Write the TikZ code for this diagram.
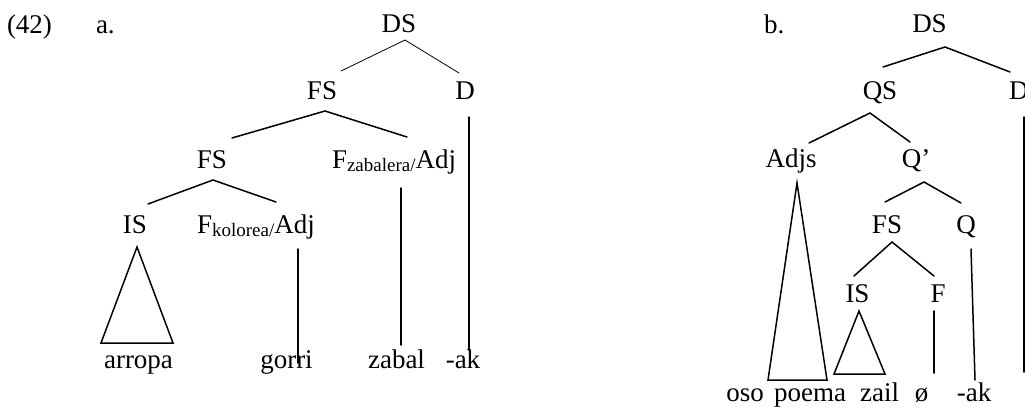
\documentclass[tikz,border=0pt]{standalone}
\usepackage{fontspec}
\setmainfont{Liberation Serif}
\newcommand\lsub[1]{\raisebox{-3.5pt}{\fontsize{19}{20}\selectfont #1}}
\tikzset{
  lbl/.style={inner sep=0pt, outer sep=0pt, anchor=base, font=\fontsize{27}{30}\selectfont},
  lblw/.style={lbl, anchor=base west},
  br/.style={line width=1.5pt, line cap=round, line join=miter},
  thinbr/.style={line width=0.8pt, line cap=round}
}
\begin{document}
\begin{tikzpicture}[x=1pt,y=-1pt]
\useasboundingbox (0,0) rectangle (1025,408);
% ---------- (a) ----------
\node[lblw] (num) at (7,33) {(42)};
\node[lblw] (la) at (96,33) {a.};
\node[lbl] (DSa) at (399,32) {DS};
\node[lbl] (FSa1) at (322,99) {FS};
\node[lbl] (Da) at (465,99) {D};
\node[lbl] (FSa2) at (212,168) {FS};
\node[lblw] (Fzab) at (332,168) {F\lsub{zabalera/}Adj};
\node[lbl] (ISa) at (135,233) {IS};
\node[lblw] (Fkol) at (197,233) {F\lsub{kolorea/}Adj};
\node[lbl] (arropa) at (138.5,368) {arropa};
\node[lbl] (gorri) at (286.5,368) {gorri};
\node[lbl] (zabal) at (396.5,368) {zabal};
\node[lbl] (aka) at (463,368) {-ak};
% coordinates for branches
\coordinate (DSa-t) at (405,40);
\coordinate (DSa-l) at (341,71);
\coordinate (DSa-r) at (459,73);
\coordinate (FSa1-t) at (325,111);
\coordinate (FSa1-l) at (232,138);
\coordinate (FSa1-r) at (407,137);
\coordinate (Da-t) at (469,117);
\coordinate (Da-b) at (469,350);
\coordinate (FSa2-t) at (213,180);
\coordinate (FSa2-l) at (148,204);
\coordinate (FSa2-r) at (276,202);
\coordinate (Fzab-t) at (401,188);
\coordinate (Fzab-b) at (401,345);
\coordinate (ISa-t) at (137,247);
\coordinate (ISa-l) at (101,343);
\coordinate (ISa-r) at (173,343);
\coordinate (Fkol-t) at (298,249);
\coordinate (Fkol-b) at (298,363);
\draw[thinbr] (DSa-l) -- (DSa-t) -- (DSa-r);
\draw[br] (FSa1-l) -- (FSa1-t) -- (FSa1-r);
\draw[br] (Da-t) -- (Da-b);
\draw[br] (FSa2-l) -- (FSa2-t) -- (FSa2-r);
\draw[br] (Fzab-t) -- (Fzab-b);
\draw[br] (ISa-t) -- (ISa-l) -- (ISa-r) -- cycle;
\draw[br] (Fkol-t) -- (Fkol-b);
% ---------- (b) ----------
\node[lblw] (lb) at (764,33) {b.};
\node[lbl] (DSb) at (929.5,32) {DS};
\node[lbl] (QS) at (880,99) {QS};
\node[lblw] (Db) at (1009,99) {D};
\node[lbl] (Adjs) at (791,167) {Adjs};
\node[lbl] (Qbar) at (916,167) {Q’};
\node[lbl] (FSb) at (887,233) {FS};
\node[lbl] (Q) at (966,233) {Q};
\node[lbl] (ISb) at (857.5,302) {IS};
\node[lbl] (F) at (938,302) {F};
\node[lbl] (oso) at (745,401) {oso};
\node[lbl] (poema) at (810,401) {poema};
\node[lbl] (zail) at (879.5,401) {zail};
\node[lbl] (null) at (921.5,401) {ø};
\node[lbl] (akb) at (974,401) {-ak};
\coordinate (DSb-t) at (945,47);
\coordinate (DSb-l) at (883,67);
\coordinate (DSb-r) at (1010,72);
\coordinate (QS-t) at (870,113);
\coordinate (QS-l) at (809,143);
\coordinate (QS-r) at (910,142);
\coordinate (Db-t) at (1024,117);
\coordinate (Db-b) at (1024,372);
\coordinate (Qbar-t) at (924,182);
\coordinate (Qbar-l) at (885,202);
\coordinate (Qbar-r) at (961,203);
\coordinate (FSb-t) at (892,242);
\coordinate (FSb-l) at (854,276);
\coordinate (FSb-r) at (934,276);
\coordinate (Adjs-t) at (797,183);
\coordinate (Adjs-l) at (768,380);
\coordinate (Adjs-r) at (827,380);
\coordinate (ISb-t) at (859,311);
\coordinate (ISb-l) at (834,374);
\coordinate (ISb-r) at (885,374);
\coordinate (F-t) at (934,311);
\coordinate (F-b) at (934,373);
\coordinate (Q-t) at (971,249);
\coordinate (Q-b) at (975,380);
\draw[br] (DSb-l) -- (DSb-t) -- (DSb-r);
\draw[br] (QS-l) -- (QS-t) -- (QS-r);
\draw[br] (Db-t) -- (Db-b);
\draw[br] (Qbar-l) -- (Qbar-t) -- (Qbar-r);
\draw[br] (FSb-l) -- (FSb-t) -- (FSb-r);
\draw[br] (Adjs-t) -- (Adjs-l) -- (Adjs-r) -- cycle;
\draw[br] (ISb-t) -- (ISb-l) -- (ISb-r) -- cycle;
\draw[br] (F-t) -- (F-b);
\draw[br] (Q-t) -- (Q-b);
\end{tikzpicture}
\end{document}
